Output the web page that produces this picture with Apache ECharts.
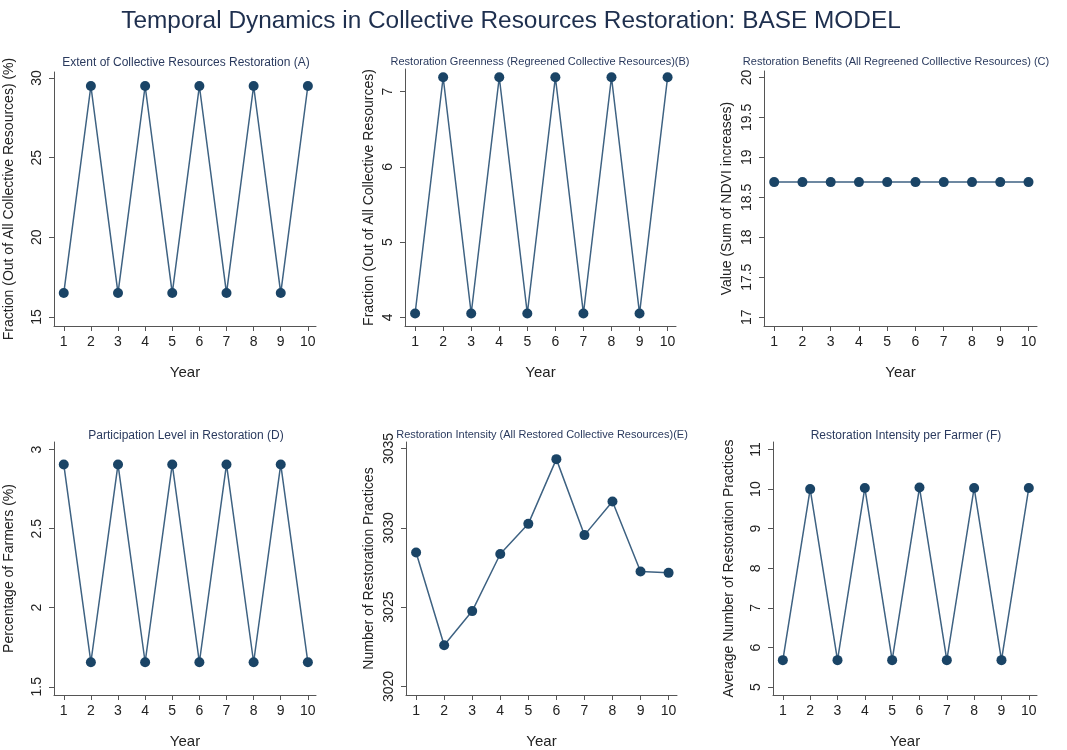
<!DOCTYPE html>
<html>
<head>
<meta charset="utf-8">
<script src="https://cdn.jsdelivr.net/npm/echarts@6/dist/echarts.min.js"></script>
<style>
html,body{margin:0;padding:0;background:#fff;}
#chart{width:1067px;height:750px;}
</style>
</head>
<body>
<div id="chart"></div>
<script>
const years = [1,2,3,4,5,6,7,8,9,10];
const extentA = [16.5,29.5,16.5,29.5,16.5,29.5,16.5,29.5,16.5,29.5];
const greennessB = [4.05,7.19,4.05,7.19,4.05,7.19,4.05,7.19,4.05,7.19];
const benefitsC = [18.69,18.69,18.69,18.69,18.69,18.69,18.69,18.69,18.69,18.69];
const participationD = [2.906,1.655,2.906,1.655,2.906,1.655,2.906,1.655,2.906,1.655];
const intensityE = [3028.44,3022.6,3024.75,3028.35,3030.25,3034.33,3029.54,3031.66,3027.25,3027.16];
const perFarmerF = [5.68,10.0,5.68,10.03,5.68,10.04,5.68,10.03,5.68,10.03];

const ticksA = [15,20,25,30];
const ticksB = [4,5,6,7];
const ticksC = [17,17.5,18,18.5,19,19.5,20];
const ticksD = [1.5,2,2.5,3];
const ticksE = [3020,3025,3030,3035];
const ticksF = [5,6,7,8,9,10,11];

const titles = [
  'Extent of Collective Resources Restoration (A)',
  'Restoration Greenness (Regreened Collective Resources)(B)',
  'Restoration Benefits (All Regreened Colllective Resources) (C)',
  'Participation Level in Restoration (D)',
  'Restoration Intensity (All Restored Collective Resources)(E)',
  'Restoration Intensity per Farmer (F)'
];
const yNames = [
  'Fraction (Out of All Collective Resources) (%)',
  'Fraction (Out of All Collective Resources)',
  'Value (Sum of NDVI increases)',
  'Percentage of Farmers (%)',
  'Number of Restoration Practices',
  'Average Number of Restoration Practices'
];
const seriesData = [extentA, greennessB, benefitsC, participationD, intensityE, perFarmerF];
const yTicks = [ticksA, ticksB, ticksC, ticksD, ticksE, ticksF];

// layout
const grids = [
  {left:54, top:72, width:262, height:254},
  {left:405, top:69, width:271, height:257},
  {left:764, top:71, width:273, height:255},
  {left:54, top:442, width:262, height:255},
  {left:406, top:442, width:271, height:255},
  {left:773, top:442, width:264, height:255}
];
const yRange = [
  [14.43, 30.38],
  [3.884, 7.30],
  [16.89, 20.08],
  [1.448, 3.048],
  [3019.46, 3035.41],
  [4.80, 11.19]
];
const titlePos = [
  {x:186, y:61, size:12},
  {x:540, y:60, size:11},
  {x:896, y:60, size:11},
  {x:186, y:434, size:12},
  {x:542, y:433, size:11},
  {x:906, y:434, size:12}
];
const yNameGap = [38, 29, 30, 38, 30, 37];

const font = '"Liberation Sans", Arial, sans-serif';
const axisColor = '#555';
const textColor = '#222';

const option = {
  backgroundColor: '#fff',
  animation: false,
  title: [{
    text: 'Temporal Dynamics in Collective Resources Restoration: BASE MODEL',
    left: 511, top: 9, textAlign: 'center', padding: 0,
    textStyle: {fontFamily: font, fontSize: 24.4, fontWeight: 'normal', color: '#1e2f4e'}
  }].concat(titles.map((t, i) => ({
    text: t, left: titlePos[i].x, top: titlePos[i].y - 4, textAlign: 'center', padding: 0,
    textStyle: {fontFamily: font, fontSize: titlePos[i].size, fontWeight: 'normal', color: '#2a3a5e'}
  }))),
  grid: grids.map(g => Object.assign({containLabel: false}, g)),
  xAxis: grids.map((g, i) => ({
    type: 'value', gridIndex: i, min: 0.64, max: 10.3,
    name: 'Year', nameLocation: 'middle', nameGap: 39,
    nameTextStyle: {fontFamily: font, fontSize: 15, color: textColor},
    axisLine: {show: true, lineStyle: {color: axisColor, width: 1}},
    axisTick: {show: true, length: 5, customValues: years, lineStyle: {color: axisColor}},
    axisLabel: {customValues: years, fontFamily: font, fontSize: 14, color: textColor, margin: 9},
    splitLine: {show: false}
  })),
  yAxis: grids.map((g, i) => ({
    type: 'value', gridIndex: i, min: yRange[i][0], max: yRange[i][1],
    name: yNames[i], nameLocation: 'middle', nameGap: yNameGap[i],
    nameTextStyle: {fontFamily: font, fontSize: 14, color: textColor},
    axisLine: {show: true, lineStyle: {color: axisColor, width: 1}},
    axisTick: {show: true, length: 5, customValues: yTicks[i], lineStyle: {color: axisColor}},
    axisLabel: {customValues: yTicks[i], rotate: 90, fontFamily: font, fontSize: 14, color: textColor, margin: 10,
      formatter: v => String(v)},
    splitLine: {show: false}
  })),
  series: seriesData.map((d, i) => ({
    type: 'line', xAxisIndex: i, yAxisIndex: i,
    data: years.map((y, k) => [y, d[k]]),
    symbol: 'circle', symbolSize: 10,
    lineStyle: {color: '#3e6282', width: 1.5},
    itemStyle: {color: '#1a4466'},
    emphasis: {disabled: true}
  }))
};

const chart = echarts.init(document.getElementById('chart'), null, {renderer: 'canvas'});
chart.setOption(option);
</script>
</body>
</html>
